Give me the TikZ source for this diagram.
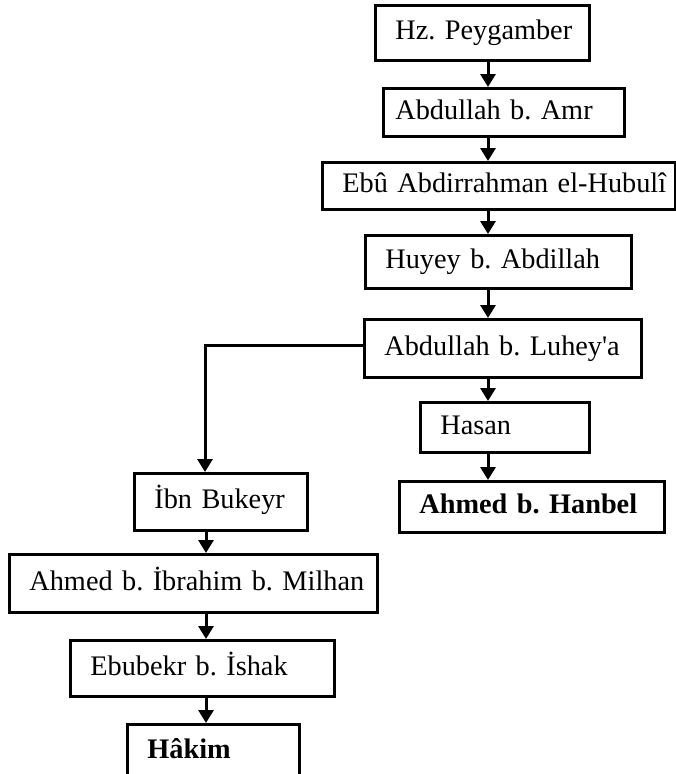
\documentclass[tikz,border=0pt]{standalone}
\usepackage{fontspec}
\setmainfont{Liberation Serif}
\usepackage{tikz}
\usetikzlibrary{positioning, arrows.meta}

\tikzset{
    kutu/.style = {draw, line width = 2.8pt, anchor = north west, inner xsep = 20pt, inner ysep = 0pt,
                   align = left, text height = 19.8pt, text depth = 6.2pt,
                   font = \fontsize{28.3}{32}\selectfont\frenchspacing,
                   execute at begin node = \hbox\bgroup, execute at end node = \egroup},
    ok/.style = {line width = 3pt, -{Triangle[width = 15pt, length = 13pt]}}
}

\begin{document}
\begin{tikzpicture}[x = 1pt, y = -1pt]
    \useasboundingbox (0, 0) rectangle (675, 774);

    % draw right chain
    \node[kutu, text width = 174pt, minimum height = 55pt] (hz) at (374, 4) {Hz. Peygamber};
    \node[kutu, inner xsep = 12pt, text width = 217pt, minimum height = 48pt] (amr) at (382, 87) {Abdullah b. Amr};
    \node[kutu, text width = 313pt, minimum height = 47pt] (ebu) at (321, 161) {Ebû Abdirrahman el-Hubulî};
    \node[kutu, text width = 226pt, minimum height = 53pt] (huyey) at (364, 234) {Huyey b. Abdillah};
    \node[kutu, text width = 237pt, minimum height = 58pt] (luheya) at (363, 318) {Abdullah b. Luhey\textquotesingle a};
    \node[kutu, text width = 129pt, minimum height = 50pt] (hasan) at (419, 401) {Hasan};
    \node[kutu, text width = 225pt, minimum height = 51pt] (hanbel) at (398, 480) {\textbf{Ahmed b. Hanbel}};

    % draw left chain
    \node[kutu, text width = 133pt, minimum height = 57pt] (ibn) at (133, 472) {İbn Bukeyr};
    \node[kutu, text width = 328pt, minimum height = 58pt] (milhan) at (8, 553) {Ahmed b. İbrahim b. Milhan};
    \node[kutu, text width = 224pt, minimum height = 56pt] (ishak) at (69, 639) {Ebubekr b. İshak};
    \node[kutu, text width = 132pt, minimum height = 54pt] (hakim) at (126, 723) {\textbf{Hâkim}};

    % draw arrows
    \coordinate (sag) at (488, 0);
    \coordinate (sol) at (206, 0);
    \coordinate (dal) at (205, 345);

    \draw[ok] (hz.south -| sag) -- (amr.north -| sag);
    \draw[ok] (amr.south -| sag) -- (ebu.north -| sag);
    \draw[ok] (ebu.south -| sag) -- (huyey.north -| sag);
    \draw[ok] (huyey.south -| sag) -- (luheya.north -| sag);
    \draw[ok] (luheya.south -| sag) -- (hasan.north -| sag);
    \draw[ok] (hasan.south -| sag) -- (hanbel.north -| sag);

    \draw[ok] (luheya.west |- dal) -- (dal) -- (ibn.north -| dal);
    \draw[ok] (ibn.south -| sol) -- (milhan.north -| sol);
    \draw[ok] (milhan.south -| sol) -- (ishak.north -| sol);
    \draw[ok] (ishak.south -| sol) -- (hakim.north -| sol);
\end{tikzpicture}
\end{document}
